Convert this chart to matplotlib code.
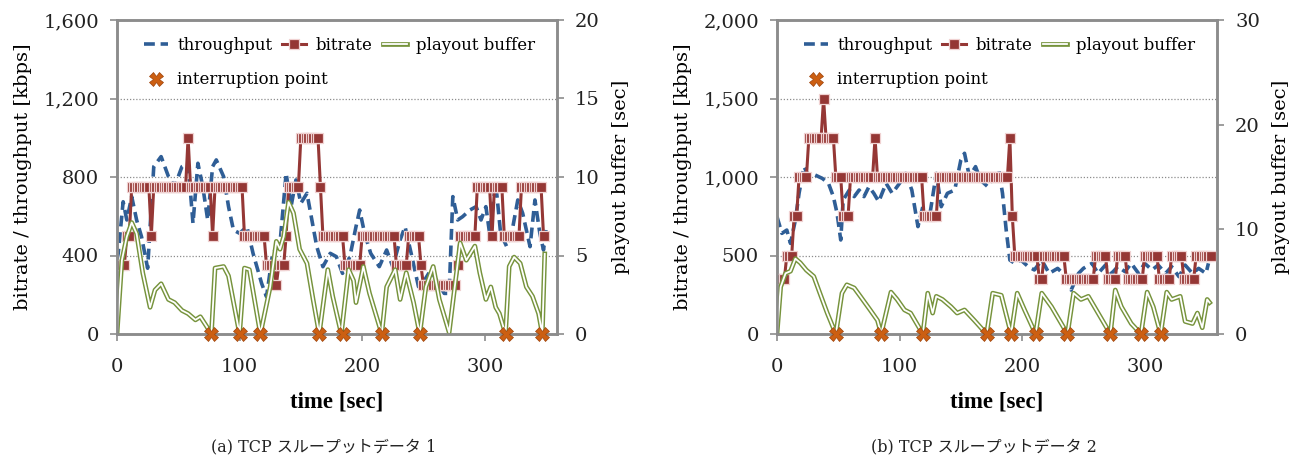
import numpy as np
import matplotlib
matplotlib.use("Agg")
import matplotlib.pyplot as plt
from matplotlib.lines import Line2D
from matplotlib.ticker import MultipleLocator, StrMethodFormatter

plt.rcParams["font.family"] = ["DejaVu Serif", "Noto Sans CJK JP"]

# ------------------------------------------------------------
# (a) TCP throughput data 1
# ------------------------------------------------------------
A_TP_T = [0, 1, 5, 8, 12, 16, 20, 25, 30, 36, 42, 47, 53, 58, 62, 66, 70, 74, 78, 81,
          87, 91, 95, 100, 106, 111, 118, 122, 127, 133, 138, 142, 146, 150, 155, 159, 163, 168, 174, 179,
          184, 190, 195, 198, 202, 207, 214, 220, 225, 231, 235, 240, 246, 251, 256, 262, 267, 271, 274, 278,
          282, 288, 293, 297, 301, 304, 309, 313, 318, 323, 327, 331, 337, 341, 345, 348, 350]
A_TP = [380, 411, 674, 581, 700, 581, 496, 335, 853, 904, 802, 751, 853, 870, 564, 870, 751, 581, 853, 887,
        802, 649, 530, 513, 547, 411, 258, 190, 411, 462, 819, 649, 785, 666, 717, 581, 445, 343, 411, 394,
        309, 394, 547, 632, 513, 411, 343, 428, 343, 479, 547, 411, 241, 275, 326, 258, 207, 207, 700, 581,
        598, 632, 649, 581, 649, 513, 768, 513, 445, 547, 683, 615, 445, 683, 513, 428, 530]

# bitrate, one value per 2 s segment starting at t = 0
A_BR = [350, 350, 350, 350,
        500, 500,
        750, 750, 750, 750, 750, 750, 750, 750,
        500,
        750, 750, 750, 750, 750, 750, 750, 750, 750, 750, 750, 750, 750, 750,
        1000,
        750, 750, 750, 750, 750, 750, 750, 750, 750,
        500,
        750, 750, 750, 750, 750, 750, 750, 750, 750, 750, 750, 750,
        500, 500, 500, 500, 500, 500, 500, 500, 500,
        350, 350, 350, 350,
        250,
        350, 350, 350,
        500,
        750, 750, 750, 750, 750,
        1000, 1000, 1000, 1000, 1000, 1000, 1000, 1000,
        750,
        500, 500, 500, 500, 500, 500, 500, 500, 500,
        350, 350, 350, 350, 350, 350, 350,
        500, 500, 500, 500, 500, 500, 500, 500, 500, 500, 500, 500, 500, 500,
        350, 350, 350, 350, 350,
        500, 500, 500, 500, 500,
        350,
        250, 250, 250, 250, 250, 250, 250, 250, 250, 250, 250, 250, 250, 250,
        350,
        500, 500, 500, 500, 500, 500, 500,
        750, 750, 750, 750, 750, 750,
        500,
        750, 750, 750, 750,
        500, 500, 500, 500, 500, 500, 500,
        750, 750, 750, 750, 750, 750, 750, 750, 750,
        500]

A_BUF_T = [0, 4, 8, 12, 16, 21, 27, 31, 36, 42, 47, 53, 58, 64, 68, 73, 77, 80, 87, 91,
           100, 104, 108, 117, 125, 130, 133, 136, 140, 144, 149, 155, 160, 165, 172, 176, 183, 189, 193, 195,
           201, 206, 216, 220, 227, 231, 236, 242, 247, 252, 258, 263, 271, 277, 280, 285, 292, 296, 301, 305,
           309, 312, 317, 320, 324, 329, 334, 339, 344, 347, 349]
A_BUF = [0, 4.7, 6.2, 7.1, 6.4, 3.9, 1.7, 2.8, 3.2, 2.2, 2.0, 1.5, 1.3, 0.9, 1.1, 0.5, 0, 4.2, 4.3, 3.7,
         0, 4.2, 4.1, 0, 3.0, 5.9, 5.4, 6.2, 8.4, 7.7, 5.4, 4.5, 2.2, 0, 4.1, 2.4, 0, 4.1, 3.4, 2.0,
         4.3, 2.6, 0, 3.0, 4.1, 2.2, 3.9, 2.0, 0, 3.0, 4.3, 2.2, 0.1, 3.9, 5.8, 4.7, 5.6, 3.9, 2.2, 3.0,
         1.7, 1.3, 0, 4.3, 4.9, 4.5, 3.0, 2.4, 1.3, 0, 5.1]

A_STOP_T = [77, 100, 117, 165, 184, 216, 247, 317, 347]

# ------------------------------------------------------------
# (b) TCP throughput data 2
# ------------------------------------------------------------
B_TP_T = [0, 4, 8, 11, 15, 18, 22, 26, 31, 37, 42, 46, 49, 52, 54, 59, 63, 67, 71, 75,
          79, 83, 89, 94, 100, 105, 110, 115, 119, 124, 130, 134, 139, 145, 150, 153, 157, 162, 166, 172,
          177, 181, 184, 187, 190, 194, 199, 205, 210, 216, 222, 229, 236, 240, 246, 250, 257, 262, 268, 273,
          278, 284, 289, 295, 300, 306, 311, 317, 322, 328, 333, 339, 344, 350, 352]
B_TP = [747, 641, 662, 577, 726, 896, 1066, 1002, 1013, 991, 960, 875, 769, 599, 854, 917, 875, 917, 875, 938,
        896, 843, 960, 896, 960, 1023, 917, 684, 811, 726, 1023, 811, 896, 917, 1108, 1151, 1002, 1066, 981, 938,
        1002, 1045, 896, 662, 471, 450, 471, 429, 408, 471, 386, 418, 365, 280, 386, 418, 450, 386, 439, 386,
        429, 397, 450, 386, 450, 408, 439, 386, 429, 365, 439, 386, 418, 386, 450]

B_BR = [350, 350, 350, 350,
        500, 500, 500,
        750, 750,
        1000, 1000, 1000, 1000,
        1250, 1250, 1250, 1250, 1250, 1250,
        1500,
        1250, 1250, 1250, 1250,
        1000, 1000, 1000,
        750, 750, 750,
        1000, 1000, 1000, 1000, 1000, 1000, 1000, 1000, 1000, 1000,
        1250,
        1000, 1000, 1000, 1000, 1000, 1000, 1000, 1000, 1000, 1000,
        1000, 1000, 1000, 1000, 1000, 1000, 1000, 1000, 1000,
        750, 750, 750, 750, 750, 750,
        1000, 1000, 1000, 1000, 1000, 1000, 1000, 1000, 1000, 1000,
        1000, 1000, 1000, 1000, 1000, 1000, 1000, 1000, 1000, 1000,
        1000, 1000, 1000, 1000, 1000, 1000, 1000, 1000, 1000,
        1250,
        750,
        500, 500, 500, 500, 500, 500, 500, 500, 500, 500,
        350, 350,
        500, 500, 500, 500, 500, 500, 500, 500, 500,
        350, 350, 350, 350, 350, 350, 350, 350, 350, 350, 350, 350,
        500, 500, 500, 500, 500,
        350, 350, 350, 350,
        500, 500, 500, 500,
        350, 350, 350, 350, 350, 350, 350,
        500, 500, 500, 500, 500, 500,
        350, 350, 350, 350, 350,
        500, 500, 500, 500, 500,
        350, 350, 350, 350, 350,
        500, 500, 500, 500, 500, 500, 500]

B_BUF_T = [0, 3, 7, 11, 15, 19, 24, 30, 35, 41, 48, 53, 57, 63, 68, 76, 82, 85, 93, 98,
           104, 109, 119, 123, 127, 130, 135, 142, 147, 153, 161, 171, 176, 183, 191, 196, 202, 211, 216, 224,
           237, 242, 248, 254, 262, 272, 276, 281, 289, 297, 302, 307, 313, 318, 322, 329, 333, 339, 343, 347,
           351, 353]
B_BUF = [0, 4.5, 5.8, 6.0, 7.2, 6.8, 6.1, 5.5, 3.9, 2.0, 0, 3.9, 4.7, 4.4, 3.6, 2.3, 1.3, 0, 4.0, 3.3,
         2.3, 2.0, 0, 3.9, 2.0, 3.6, 3.3, 2.6, 2.0, 2.3, 1.3, 0, 3.9, 3.7, 0, 3.9, 2.3, 0, 3.9, 2.6,
         0, 3.9, 3.3, 3.6, 2.0, 0, 4.2, 2.6, 1.0, 0, 4.0, 2.6, 0, 4.0, 3.3, 3.6, 1.2, 1.0, 2.0, 0.6,
         3.3, 3.0]

B_STOP_T = [48, 85, 119, 171, 191, 211, 237, 272, 297, 313]

SEG_SEC = 2  # bitrate sample interval

COL_TP = "#2f5e96"
COL_BR = "#953735"
COL_BR_EDGE = "#f0d2d2"
COL_BUF = "#76933c"
COL_X = "#cc5f12"
COL_SPINE = "#8c8c8c"

W, H = 1306, 462


def draw_panel(fig, left_px, tp_t, tp, br, buf_t, buf, stop_t, ymax, ystep, bmax, bstep, caption):
    rect = [left_px / W, 1 - 334 / H, 440 / W, 314 / H]
    ax = fig.add_axes(rect)
    axr = ax.twinx()

    br_t = np.arange(len(br)) * SEG_SEC
    ax.plot(tp_t, tp, color=COL_TP, lw=2.6, dashes=(3, 1.6), zorder=2)
    ax.plot(br_t, br, color=COL_BR, lw=2.2, marker="s", ms=7.2, mfc=COL_BR,
            mec=COL_BR_EDGE, mew=0.9, zorder=3)

    axr.plot(buf_t, buf, color=COL_BUF, lw=3.4, zorder=2)
    axr.plot(buf_t, buf, color="white", lw=1.3, zorder=2)
    axr.plot(stop_t, np.zeros(len(stop_t)), ls="none", marker="X", ms=10,
             mfc=COL_X, mec="#9c420a", mew=0.5, clip_on=False, zorder=5)

    ax.set_xlim(0, 359)
    ax.set_ylim(0, ymax)
    axr.set_ylim(0, bmax)
    ax.xaxis.set_major_locator(MultipleLocator(100))
    ax.yaxis.set_major_locator(MultipleLocator(ystep))
    ax.yaxis.set_major_formatter(StrMethodFormatter("{x:,.0f}"))
    axr.yaxis.set_major_locator(MultipleLocator(bstep))

    ax.yaxis.grid(True, color="#8c8c8c", lw=0.9, linestyle=(0, (1, 1.5)))
    ax.set_axisbelow(True)

    for a in (ax, axr):
        for s in a.spines.values():
            s.set_color(COL_SPINE)
            s.set_linewidth(1.8)
    ax.tick_params(axis="both", direction="out", length=5, width=1.2, color=COL_SPINE,
                   labelsize=14, labelcolor="#222222")
    ax.tick_params(axis="y", pad=8)
    ax.tick_params(axis="x", pad=12)
    axr.tick_params(axis="y", direction="out", length=5, width=1.2, color=COL_SPINE,
                    labelsize=14, labelcolor="#222222", pad=8)

    ax.set_ylabel("bitrate / throughput [kbps]", fontsize=14)
    ax.yaxis.set_label_coords(-0.193, 0.5)
    axr.set_ylabel("playout buffer [sec]", fontsize=14)
    axr.yaxis.set_label_coords(1.125, 0.5)
    ax.set_xlabel("time [sec]", fontsize=16.5, fontweight="bold",
                  family=["Liberation Serif", "DejaVu Serif"])
    ax.xaxis.set_label_coords(0.5, -0.183)

    # legend
    h_tp = Line2D([], [], color=COL_TP, lw=2.6, dashes=(3, 1.6))
    h_br = Line2D([], [], color=COL_BR, lw=2.2, marker="s", ms=7.2, mfc=COL_BR,
                  mec=COL_BR_EDGE, mew=0.9)
    h_buf = (Line2D([], [], color=COL_BUF, lw=3.4), Line2D([], [], color="white", lw=1.3))
    h_x = Line2D([], [], ls="none", marker="X", ms=10, mfc=COL_X, mec="#9c420a", mew=0.5)

    leg1 = axr.legend([h_tp, h_br, h_buf], ["throughput", "bitrate", "playout buffer"],
                      ncol=3, loc="center left", bbox_to_anchor=(0.061, 0.92),
                      frameon=False, fontsize=12, handlelength=1.45, handletextpad=0.55,
                      columnspacing=0.6, borderpad=0, borderaxespad=0)
    axr.add_artist(leg1)
    axr.legend([h_x], ["interruption point"], loc="center left",
               bbox_to_anchor=(0.061, 0.809), frameon=False, fontsize=12,
               handlelength=1.45, handletextpad=0.55, borderpad=0, borderaxespad=0)

    fig.text((left_px + 207) / W, 1 - 447 / H, caption, ha="center", va="center",
             fontsize=11.5, color="#222222")
    return ax


fig = plt.figure(figsize=(W / 100, H / 100), dpi=100)
draw_panel(fig, 117, A_TP_T, A_TP, A_BR, A_BUF_T, A_BUF, A_STOP_T,
           1600, 400, 20, 5, "(a) TCP スループットデータ 1")
draw_panel(fig, 777, B_TP_T, B_TP, B_BR, B_BUF_T, B_BUF, B_STOP_T,
           2000, 500, 30, 10, "(b) TCP スループットデータ 2")
fig.savefig("out.png", dpi=100)
